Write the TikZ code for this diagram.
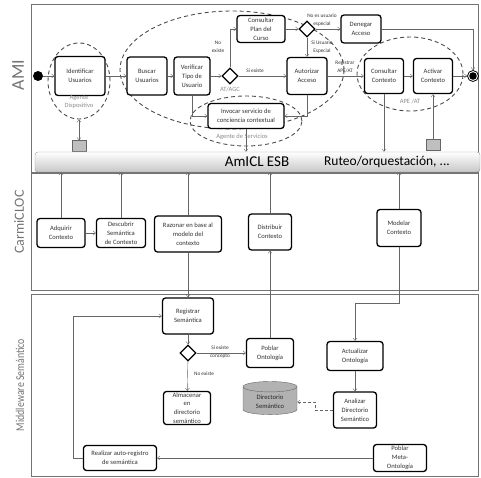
\documentclass[tikz,border=0pt]{standalone}
\usepackage{fontspec}
\setmainfont{Carlito}
\usetikzlibrary{shapes.geometric,arrows.meta}
\begin{document}
\begin{tikzpicture}[x=1pt, y=-1pt,
        act/.style={draw, rounded corners=3pt, line width=1.3pt, fill=white, align=center, inner sep=1pt, text=black!80, font=\fontsize{6.6}{8.8}\selectfont},
        box/.style 2 args={minimum width=#1pt, minimum height=#2pt},
        dec/.style={diamond, draw, line width=1.3pt, fill=white, minimum width=16pt, minimum height=16pt, inner sep=0pt},
        zone/.style={ellipse, draw=black!70, dash pattern=on 4pt off 3pt, line width=0.9pt, inner sep=0pt},
        lbl/.style={font=\fontsize{5.3}{7.5}\selectfont, text=black!80, align=center},
        glbl/.style={font=\fontsize{6.5}{8.5}\selectfont, text=black!45, align=center},
        flow/.style={draw=black!60, -{Straight Barb[length=2.5pt, width=4pt]}},
        bflow/.style={draw=black!60, {Straight Barb[length=2.5pt, width=4pt]}-{Straight Barb[length=2.5pt, width=4pt]}},
        lane/.style={draw=black!55, line width=0.9pt},
        lanename/.style={rotate=90, text=black!55},
        port/.style={draw=black!60, fill=black!25, minimum width=14pt, minimum height=11pt, inner sep=0pt}
    ]
    \useasboundingbox (0,0) rectangle (481,478);
    \draw[lane] (31,4) rectangle (478,172);
    \draw[lane] (31,173) rectangle (478,290);
    \draw[lane] (31,294) rectangle (478,476);
    \node[lanename, font=\fontsize{18}{18}\selectfont] (nami) at (18,75) {AMI};
    \node[lanename, font=\fontsize{14}{14}\selectfont] (ncarmi) at (19,222) {CarmiCLOC};
    \node[lanename, font=\fontsize{12}{12}\selectfont] (nmiddle) at (20,385) {\scalebox{0.82}[1]{Middleware Semántico}};

    % AMI
    \node[zone, minimum width=224pt, minimum height=118pt] (zgestion) at (232,70) {};
    \node[zone, minimum width=112pt, minimum height=50pt] (zservicios) at (246,121) {};
    \node[zone, minimum width=62pt, minimum height=76pt] (zdisp) at (79,81) {};
    \node[zone, minimum width=106pt, minimum height=74pt] (zcontexto) at (410,74) {};
    \node[circle, fill, minimum size=10pt, inner sep=0pt] (ini) at (38,76) {};
    \node[act, box={50}{39}] (idu) at (80,76) {Identificar\\Usuarios};
    \node[act, box={40}{38}] (bus) at (147,76) {Buscar\\Usuarios};
    \node[act, box={36}{38}] (ver) at (192,76) {Verificar\\Tipo de\\Usuario};
    \node[dec] (d1) at (230,76) {};
    \node[act, box={48}{27}] (plan) at (261,29) {Consultar\\Plan del\\Curso};
    \node[dec] (d2) at (307,29) {};
    \node[act, box={40}{28}] (den) at (361,29) {Denegar\\Acceso};
    \node[act, box={40}{37}] (aut) at (307,76) {Autorizar\\Acceso};
    \node[act, box={76}{25}] (inv) at (246,116) {Invocar servicio de\\conciencia contextual};
    \node[act, box={39}{35}] (ccx) at (384,76) {Consultar\\Contexto};
    \node[act, box={39}{35}] (acx) at (433,76) {Activar\\Contexto};
    \node[circle, draw, line width=0.8pt, minimum size=11pt, inner sep=0pt,
        path picture={\fill (path picture bounding box.center) circle (3.8pt);}] (fin) at (473,76) {};
    \node[port] (p1) at (79,146) {};
    \node[port] (p2) at (433,145) {};
    \node[glbl] (ldisp) at (79,102) {Agente\\Dispositivo};
    \node[glbl] (latagc) at (230,89) {AT/AGC};
    \node[glbl] (lserv) at (242,137) {Agente de Servicios};
    \node[glbl] (lape) at (410,101) {APE /AT};
    \node[lbl] (lnoex) at (218,47) {No\\existe};
    \node[lbl] (lsiex) at (255,71) {Si existe};
    \node[lbl] (lnoesp) at (322,20) {No es usuario\\especial};
    \node[lbl] (lsiesp) at (322,47) {Si Usuario\\Especial};
    \node[lbl] (lreg) at (345,67) {Registrar\\APE/AT};

    \node[draw=black!40, rounded corners=3pt, top color=white, bottom color=black!22, minimum width=445pt, minimum height=20pt, inner sep=0pt] (esb) at (257.5,162) {};
    \node[font=\fontsize{15}{15}\selectfont] (esbname) at (257,162) {AmICL ESB};
    \node[font=\fontsize{13.5}{15}\selectfont] (esbrt) at (387,162) {Ruteo/orquestación, ...};

    \draw[flow] (ini) -- (idu);
    \draw[flow] (idu) -- (bus);
    \draw[flow] (bus) -- (ver);
    \draw[flow] (ver) -- (d1);
    \draw[flow] (d1.north) |- (plan.west);
    \draw[flow] (plan) -- (d2);
    \draw[flow] (d2) -- (den);
    \draw[flow] (den.east) -| (fin.north);
    \draw[flow] (d2) -- (aut);
    \draw[flow] (d1) -- (aut);
    \draw[flow] (ver.south) |- (inv.west);
    \draw[flow] (aut.south) |- (inv.east);
    \draw[flow] (aut) -- (ccx);
    \draw[flow] (ccx) -- (acx);
    \draw[flow] (acx) -- (fin);
    \draw[bflow] (zdisp.south) -- (p1.north);
    \draw[flow] (inv.south) -- (inv.south |- esb.north);
    \draw[flow] (ccx.south) -- (ccx.south |- esb.north);
    \draw[flow] (p2.north) -- (acx.south);

    % CarmiCLOC
    \node[act, box={48}{29}] (adq) at (61,233) {Adquirir\\Contexto};
    \node[act, box={49}{29}] (des) at (121,233) {Descubrir\\Semántica\\de Contexto};
    \node[act, box={67}{36}] (raz) at (188,234) {Razonar en base al\\modelo del\\contexto};
    \node[act, box={43}{36}] (dis) at (270,232) {Distribuir\\Contexto};
    \node[act, box={44}{37}] (mod) at (399,228) {Modelar\\Contexto};
    \coordinate (mbend) at (399,303);

    \draw[flow] (adq.north) -- (adq.north |- esb.south);
    \draw[flow] (adq) -- (des);
    \draw[flow] (des.north) -- (des.north |- esb.south);
    \draw[flow] (raz.north) -- (raz.north |- esb.south);
    \draw[flow] (dis.north) -- (dis.north |- esb.south);
    \draw[flow] (mod.north) -- (mod.north |- esb.south);

    % Middleware
    \node[act, box={51}{36}] (reg) at (188,316) {Registrar\\Semántica};
    \node[dec] (d3) at (188,353) {};
    \node[act, box={47}{29}] (pob) at (270,353) {Poblar\\Ontología};
    \node[act, box={47}{33}] (alm) at (187,408) {Almacenar\\en\\directorio\\semántico};
    \node[act, box={73}{25}] (rea) at (120,458) {Realizar auto-registro\\de semántica};
    \node[act, box={53}{27}] (meta) at (400,458) {Poblar\\Meta-\\Ontología};
    \node[act, box={56}{29}] (actu) at (355,356) {Actualizar\\Ontología};
    \node[act, box={43}{36}] (ana) at (355,410) {Analizar\\Directorio\\Semántico};
    \node[cylinder, shape border rotate=90, aspect=0.3, draw=black!60, fill=black!30, minimum width=54pt, minimum height=29pt, align=center, text=black!85, font=\fontsize{6.6}{8.5}\selectfont] (dir) at (270,402) {Directorio\\Semántico};
    \node[lbl] (lsicon) at (220,352) {Si existe\\concepto};
    \node[lbl] (lnoex2) at (204,374) {No existe};

    \draw[flow] (raz.south) -- (reg.north);
    \draw[flow] (pob.north) -- (dis.south);
    \draw[flow] (mod.south) -- (mbend) -| (actu.north);
    \draw[flow] (reg) -- (d3);
    \draw[flow] (d3) -- (pob);
    \draw[flow] (d3) -- (alm);
    \draw[flow] (rea.west) -- ++(-10,0) |- (reg.west);
    \draw[flow] (meta) -- (rea);
    \draw[flow] (actu) -- (ana);
    \draw[flow, densely dashed] (ana.west) -- ++(-18,0) |- (dir.east);
\end{tikzpicture}
\end{document}
